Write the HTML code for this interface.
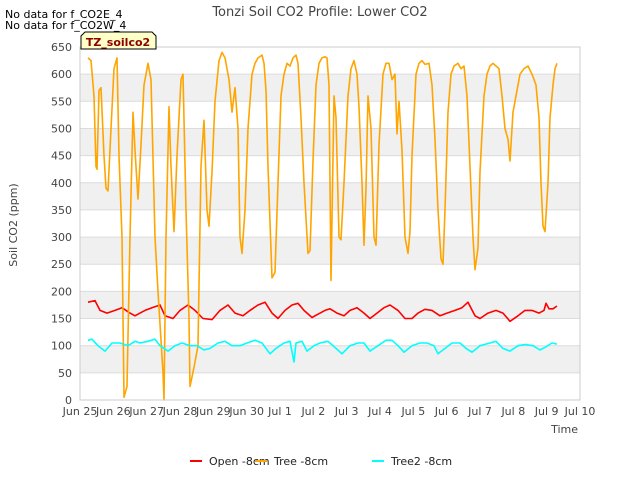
<!DOCTYPE html>
<html><head><meta charset="utf-8"><style>
body{margin:0;background:#fff;font-family:"DejaVu Sans","Liberation Sans",sans-serif;}
svg text{font-family:"DejaVu Sans","Liberation Sans",sans-serif;}
</style></head><body>
<svg id="chart" width="640" height="480" viewBox="0 0 640 480">
<text x="320" y="16" text-anchor="middle" font-size="13" fill="#444">Tonzi Soil CO2 Profile: Lower CO2</text>
<text x="5" y="18" font-size="11" fill="#000">No data for f_CO2E_4</text>
<text x="5" y="29" font-size="11" fill="#000">No data for f_CO2W_4</text>
<g id="grid"></g>
<g id="series"></g>
<g id="axes"></g>
<g>
<path d="M81,49 L81,36 L85,32 L152,32 L156,36 L156,49 Z" fill="#ffffc8" stroke="#000" stroke-width="1"/>
<text x="118" y="46" text-anchor="middle" font-size="11" font-weight="bold" fill="#8b0000">TZ_soilco2</text>
</g>
<text x="17" y="225" transform="rotate(-90 17 225)" text-anchor="middle" font-size="11" fill="#444">Soil CO2 (ppm)</text>
<text x="578" y="433" text-anchor="end" font-size="11" fill="#444">Time</text>
<g id="legend"></g>
</svg>
<script>
const xTickLabels=["Jun 25","Jun 26","Jun 27","Jun 28","Jun 29","Jun 30","Jul 1","Jul 2","Jul 3","Jul 4","Jul 5","Jul 6","Jul 7","Jul 8","Jul 9","Jul 10"];
const yTicks=[0,50,100,150,200,250,300,350,400,450,500,550,600,650];
const seriesNames=["Open -8cm","Tree -8cm","Tree2 -8cm"];
const seriesColors=["#ff0000","#ffa500","#00ffff"];
// time in days since Jun 25 00:00
const treeT=[0.24,.33,.42,.48,.51,.57,.63,.72,.78,.84,.93,1.02,1.11,1.17,1.26,1.32,1.41,1.5,1.59,1.65,1.74,1.83,1.92,2.04,2.13,2.25,2.34,2.49,2.52,2.58,2.67,2.73,2.82,2.91,3.03,3.09,3.18,3.27,3.30,3.42,3.54,3.63,3.72,3.81,3.87,3.96,4.05,4.17,4.26,4.35,4.47,4.56,4.65,4.74,4.8,4.86,4.95,5.04,5.16,5.25,5.34,5.46,5.52,5.58,5.64,5.76,5.85,5.94,6.03,6.12,6.21,6.3,6.39,6.48,6.54,6.63,6.72,6.84,6.9,6.99,7.08,7.17,7.26,7.35,7.41,7.47,7.53,7.62,7.68,7.77,7.83,7.92,8.04,8.13,8.22,8.31,8.37,8.46,8.52,8.58,8.64,8.73,8.82,8.88,8.97,9.09,9.18,9.27,9.36,9.45,9.51,9.57,9.66,9.75,9.84,9.9,9.96,10.08,10.17,10.26,10.35,10.47,10.56,10.65,10.74,10.83,10.89,10.95,11.04,11.13,11.22,11.34,11.43,11.52,11.61,11.7,11.79,11.85,11.94,12.0,12.12,12.21,12.3,12.39,12.48,12.57,12.66,12.75,12.84,12.9,12.99,13.08,13.2,13.32,13.44,13.56,13.68,13.77,13.83,13.89,13.95,14.04,14.1,14.19,14.25,14.31];
const treeV=[630,625,560,430,425,570,575,450,390,385,500,610,630,450,300,5,25,300,530,460,370,470,580,620,590,300,200,50,0,300,540,430,310,450,590,600,350,150,25,60,100,430,515,350,320,420,550,625,640,630,590,530,575,500,300,270,350,500,600,620,630,635,620,570,430,225,235,400,560,600,620,615,630,635,620,520,400,270,275,440,580,620,630,632,630,580,220,560,520,300,295,400,560,610,625,600,540,400,285,390,560,500,300,285,470,600,620,620,590,600,490,550,460,300,270,310,450,600,620,625,618,620,580,480,350,260,250,350,530,600,615,620,610,615,560,430,300,240,280,420,560,600,615,620,615,610,560,500,480,440,530,560,600,610,615,600,580,520,400,320,310,400,520,580,610,620];
const openT=[.24,.45,.6,.81,1.05,1.26,1.5,1.65,1.8,1.95,2.16,2.4,2.55,2.79,3.0,3.24,3.45,3.69,3.96,4.2,4.44,4.65,4.89,5.1,5.34,5.55,5.76,5.94,6.15,6.36,6.54,6.72,6.96,7.14,7.35,7.5,7.71,7.92,8.1,8.31,8.52,8.7,8.91,9.12,9.3,9.54,9.75,9.96,10.14,10.35,10.56,10.8,11.01,11.25,11.46,11.64,11.85,12.0,12.24,12.48,12.69,12.9,13.14,13.35,13.56,13.77,13.92,13.98,14.07,14.19,14.31];
const openV=[180,183,165,160,165,170,160,155,160,165,170,175,155,150,165,175,165,150,148,165,175,160,155,165,175,180,160,150,165,175,178,165,152,158,165,168,160,155,165,170,160,150,160,170,175,165,150,150,160,167,165,155,160,165,170,180,155,150,160,165,160,145,155,165,165,160,165,178,168,168,173];
const tree2T=[.24,.36,.54,.75,.96,1.2,1.44,1.65,1.8,2.04,2.25,2.4,2.64,2.85,3.06,3.3,3.51,3.72,3.9,4.14,4.35,4.56,4.8,5.01,5.25,5.46,5.7,5.88,6.12,6.3,6.42,6.48,6.66,6.81,7.02,7.2,7.44,7.68,7.86,8.1,8.34,8.52,8.7,8.94,9.18,9.36,9.54,9.72,9.96,10.2,10.41,10.62,10.74,10.95,11.16,11.4,11.58,11.76,12.0,12.3,12.48,12.69,12.9,13.14,13.35,13.59,13.8,13.98,14.16,14.31];
const tree2V=[110,112,100,90,105,105,100,108,105,108,112,100,90,100,105,100,100,92,95,105,108,100,100,105,110,105,85,95,105,108,70,105,108,90,100,105,108,95,85,100,105,105,90,100,110,110,100,88,100,105,105,100,85,95,105,105,95,88,100,105,108,95,90,100,102,100,92,98,105,103];

const X0=80,X1=580,Y0=400,Y1=47,DAYS=15,YMAX=650;
function xs(d){return X0+(X1-X0)*d/DAYS;}
function ys(v){return Y0-(Y0-Y1)*v/YMAX;}
const NS="http://www.w3.org/2000/svg";
function mk(tag,attrs,parent){const e=document.createElementNS(NS,tag);for(const k in attrs)e.setAttribute(k,attrs[k]);parent.appendChild(e);return e;}
const grid=document.getElementById('grid'),axes=document.getElementById('axes'),ser=document.getElementById('series'),leg=document.getElementById('legend');
for(let i=0;i<yTicks.length-1;i++){
  if(i%2===1){const b=mk('rect',{x:X0,y:ys(yTicks[i+1]),width:X1-X0,height:ys(yTicks[i])-ys(yTicks[i+1]),fill:'#f0f0f0'},grid);
  
  }
}
yTicks.forEach(v=>{
  const l=mk('line',{x1:X0,x2:X1,y1:ys(v),y2:ys(v),stroke:'#dcdcdc','stroke-width':1},grid);
  
  
  const t=mk('text',{x:X0-8,y:ys(v)+4,'text-anchor':'end','font-size':11,fill:'#444'},axes);
  t.textContent=v;
  
  
});
const fr=mk('rect',{x:X0,y:Y1,width:X1-X0,height:Y0-Y1,fill:'none',stroke:'#cccccc'},axes);


xTickLabels.forEach((s,i)=>{
  const t=mk('text',{x:xs(i),y:Y0+15,'text-anchor':'middle','font-size':11,fill:'#444'},axes);
  t.textContent=s;
  
  
});
function line(T,V,color,name){
  const p=T.map((t,i)=>(i?'L':'M')+xs(t).toFixed(1)+','+ys(V[i]).toFixed(1)).join('');
  const e=mk('path',{d:p,fill:'none',stroke:color,'stroke-width':1.6,'stroke-linejoin':'round'},ser);
  
  
}
line(openT,openV,seriesColors[0],'open-8cm-line');
line(treeT,treeV,seriesColors[1],'tree-8cm-line');
line(tree2T,tree2V,seriesColors[2],'tree2-8cm-line');
const lx=[190,255,372];
seriesNames.forEach((n,i)=>{
  const g=mk('g',{},leg);
  
  
  mk('line',{x1:lx[i],x2:lx[i]+12,y1:461,y2:461,stroke:seriesColors[i],'stroke-width':2},g);
  const t=mk('text',{x:lx[i]+19,y:465,'font-size':11,fill:'#222'},g);
  t.textContent=n;
});
</script>
</body></html>
